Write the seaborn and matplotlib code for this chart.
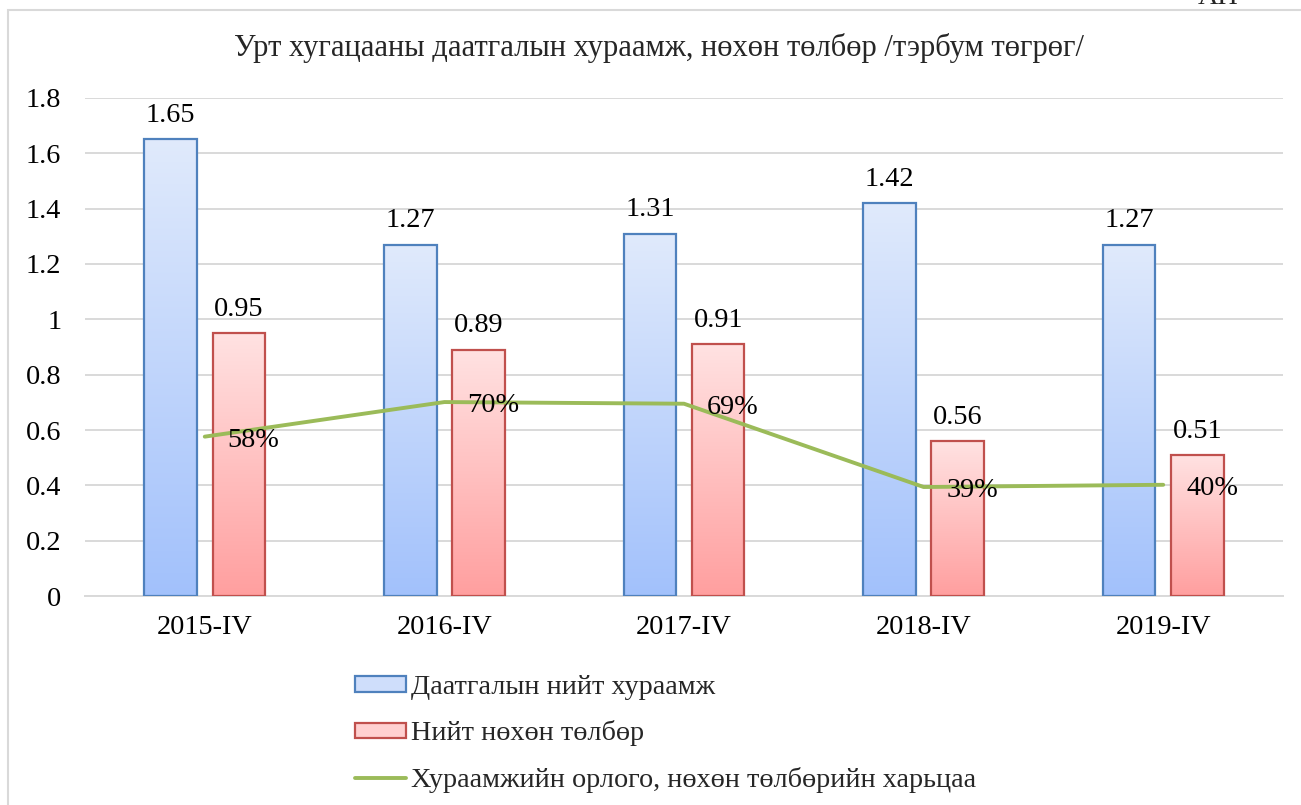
import numpy as np
import pandas as pd
import matplotlib
matplotlib.use("Agg")
import matplotlib.pyplot as plt
from matplotlib.colors import LinearSegmentedColormap
from matplotlib.patches import Rectangle, Patch
from matplotlib.lines import Line2D
from matplotlib.ticker import FuncFormatter
import seaborn as sns

# chart data
periods = ['2015-IV', '2016-IV', '2017-IV', '2018-IV', '2019-IV']
premiums = [1.65, 1.27, 1.31, 1.42, 1.27]
claims = [0.95, 0.89, 0.91, 0.56, 0.51]
ratio = [0.576, 0.701, 0.695, 0.394, 0.402]
ratio_labels = ['58%', '70%', '69%', '39%', '40%']
series_names = ['Даатгалын нийт хураамж', 'Нийт нөхөн төлбөр',
                'Хураамжийн орлого, нөхөн төлбөрийн харьцаа']
title = 'Урт хугацааны даатгалын хураамж, нөхөн төлбөр /тэрбум төгрөг/'

df = pd.DataFrame({
    'period': periods * 2,
    'series': [series_names[0]] * 5 + [series_names[1]] * 5,
    'value': premiums + claims,
})

sns.set_theme(style='white')
plt.rcParams['font.family'] = ['Liberation Serif', 'DejaVu Serif']

fs = 20.3
blue_edge, red_edge, green = '#4f81bd', '#c0504d', '#9bbb59'
blue_grad = LinearSegmentedColormap.from_list('b', ['#a2c1fb', '#e0eafc'])
red_grad = LinearSegmentedColormap.from_list('r', ['#ff9f9f', '#ffe2e2'])

fig = plt.figure(figsize=(13.01, 8.05), dpi=100)
ax = fig.add_axes([0.0653, 0.2596, 0.9209, 0.6187])

sns.barplot(data=df, x='period', y='value', hue='series', order=periods,
            hue_order=series_names[:2], width=0.57, gap=0.23,
            palette=['#c7d9fb', '#ffc4c4'], legend=False, ax=ax, zorder=3)

# gradient fill inside each bar
grad = np.linspace(0, 1, 256).reshape(-1, 1)
n = len(periods)
for i, bar in enumerate(ax.patches[:2 * n]):
    x, w, h = bar.get_x(), bar.get_width(), bar.get_height()
    cmap = blue_grad if i < n else red_grad
    ec = blue_edge if i < n else red_edge
    im = ax.imshow(grad, extent=[x, x + w, 0, h], origin='lower', cmap=cmap,
                   aspect='auto', zorder=3)
    im.set_clip_path(bar)
    bar.set_facecolor('none')
    bar.set_edgecolor(ec)
    bar.set_linewidth(1.6)
    bar.set_zorder(4)
    ax.annotate(f'{h:.2f}', (x + w / 2, h), xytext=(0, 12.5),
                textcoords='offset points', ha='center', va='baseline',
                fontsize=fs, color='black', zorder=6)

sns.lineplot(x=periods, y=ratio, color=green, linewidth=2.8, ax=ax,
             sort=False, zorder=5)
for i, lab in enumerate(ratio_labels):
    ax.annotate(lab, (i, ratio[i]), xytext=(16.5, -7.5),
                textcoords='offset points', ha='left', va='baseline',
                fontsize=fs, color='black', zorder=6)

ax.set_xlim(-0.5, n - 0.5)
ax.set_ylim(0, 1.8)
ax.set_yticks(np.arange(0, 1.81, 0.2))
ax.yaxis.set_major_formatter(FuncFormatter(lambda v, p: f'{v:g}'))
ax.grid(axis='y', color='#d9d9d9', linewidth=1.4, zorder=0)
ax.set_axisbelow(True)
for s in ['top', 'right', 'left']:
    ax.spines[s].set_visible(False)
ax.spines['bottom'].set_color('#d9d9d9')
ax.spines['bottom'].set_linewidth(1.4)
ax.tick_params(axis='y', length=0, pad=17, labelsize=fs, colors='black')
ax.tick_params(axis='x', length=0, pad=14, labelsize=fs, colors='black')
ax.set_xlabel('')
ax.set_ylabel('')

fig.text(0.5065, 0.940, title, ha='center', va='center', fontsize=22)
fig.text(0.9365, 1 - 4.5 / 805, 'АП', ha='center', va='baseline',
         fontsize=fs)

# chart frame
fig.patches.append(Rectangle((8 / 1301, -0.1), 1.2, 1 - 10 / 805 + 0.1,
                             transform=fig.transFigure, fill=False,
                             edgecolor='#d9d9d9', linewidth=1.5))

handles = [
    Patch(facecolor='#cfdefb', edgecolor=blue_edge, linewidth=1.6),
    Patch(facecolor='#ffd0d0', edgecolor=red_edge, linewidth=1.6),
    Line2D([], [], color=green, linewidth=2.8),
]
fig.legend(handles, series_names, loc='upper left',
           bbox_to_anchor=(355 / 1301, 1 - 675 / 805), frameon=False,
           fontsize=fs, handlelength=1.8, handleheight=0.45,
           handletextpad=0.2, labelspacing=0.72, borderpad=0,
           borderaxespad=0)

fig.savefig('out.png', dpi=100)
